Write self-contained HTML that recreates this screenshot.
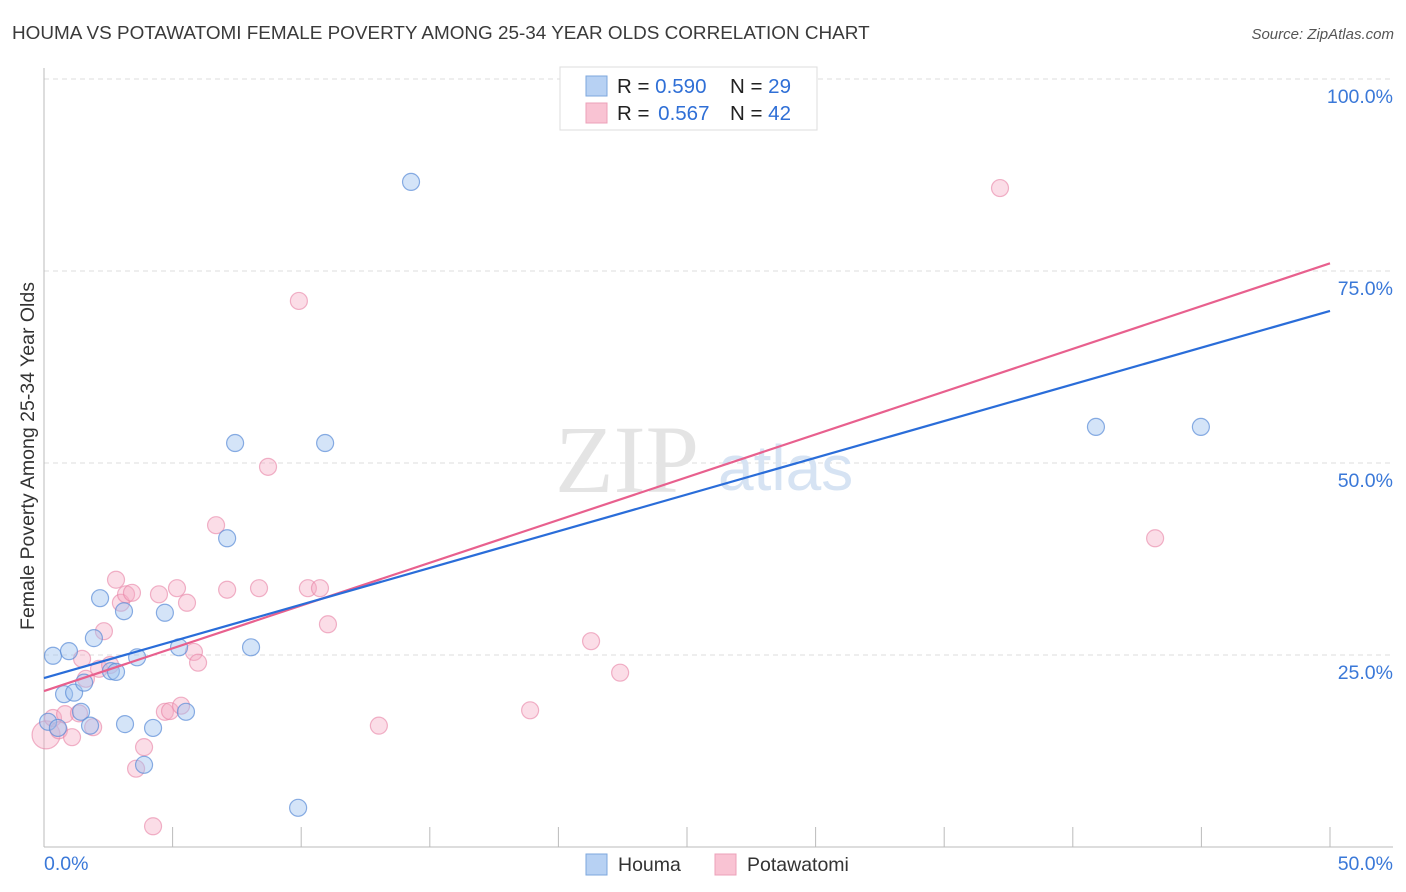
<!DOCTYPE html>
<html><head><meta charset="utf-8">
<style>
body{margin:0;background:#fff;font-family:"Liberation Sans",sans-serif;}
#wrap{position:relative;width:1406px;height:892px;overflow:hidden;}
</style></head>
<body>
<div id="wrap">
<svg id="svg" width="1406" height="892" xmlns="http://www.w3.org/2000/svg">
<text x="12" y="39" font-size="18.9" fill="#3a3a3a">HOUMA VS POTAWATOMI FEMALE POVERTY AMONG 25-34 YEAR OLDS CORRELATION CHART</text>
<text x="1394" y="39" font-size="15" fill="#555" font-style="italic" text-anchor="end">Source: ZipAtlas.com</text>
<text transform="translate(34,456) rotate(-90)" font-size="19.5" fill="#333" text-anchor="middle">Female Poverty Among 25-34 Year Olds</text>
<g id="grid"></g>
<text x="555" y="492" font-size="96" fill="#e4e4e4" font-family="Liberation Serif,serif">ZIP</text>
<text x="718" y="490" font-size="64" fill="#d6e3f3">atlas</text>
<g id="pts"></g>
<g id="lines"></g>
<g>
<rect x="560" y="67" width="257" height="63" fill="#fff" stroke="#ddd"/>
<rect x="586" y="76" width="21" height="20" fill="#b7d1f3" stroke="#7ea7dc"/>
<rect x="586" y="103" width="21" height="20" fill="#f9c3d3" stroke="#eca0b8"/>
<text x="617" y="93" font-size="20.5" fill="#222">R = <tspan fill="#2f6fd6">0.590</tspan></text>
<text x="730" y="93" font-size="20.5" fill="#222">N = <tspan fill="#2f6fd6">29</tspan></text>
<text x="617" y="120" font-size="20.5" fill="#222">R = <tspan fill="#2f6fd6" dx="3">0.567</tspan></text>
<text x="730" y="120" font-size="20.5" fill="#222">N = <tspan fill="#2f6fd6">42</tspan></text>
</g>
<g>
<rect x="586" y="854" width="21" height="21" fill="#b7d1f3" stroke="#7ea7dc"/>
<text x="618" y="871" font-size="19.5" fill="#333">Houma</text>
<rect x="715" y="854" width="21" height="21" fill="#f9c3d3" stroke="#eca0b8"/>
<text x="747" y="871" font-size="19.5" fill="#333">Potawatomi</text>
</g>
</svg>
</div>
<script>
const yTicks=[25,50,75,100];
const yTickLabels=["25.0%","50.0%","75.0%","100.0%"];
const xTicks=[0,5,10,15,20,25,30,35,40,45,50];
const houmaX=[0.35,0.97,0.78,1.17,1.44,1.56,1.79,1.94,2.18,2.6,2.8,3.11,3.15,3.62,3.89,4.24,4.7,5.25,5.52,7.12,7.43,8.05,9.88,10.93,14.27,40.9,44.98,0.16,0.54];
const houmaY=[24.9,25.5,19.9,20.1,17.6,21.4,15.8,27.2,32.4,22.9,22.8,30.7,16.0,24.7,10.7,15.5,30.5,26.0,17.6,40.2,52.6,26.0,5.1,52.6,86.6,54.7,54.7,16.3,15.5];
const potX=[0.08,0.35,0.58,0.82,1.09,1.36,1.48,1.63,1.91,2.14,2.33,2.57,2.8,2.99,3.19,3.42,3.58,3.89,4.24,4.47,4.7,4.9,5.17,5.33,5.56,5.83,5.99,6.69,7.12,8.36,8.71,9.91,10.26,10.73,11.04,13.02,18.9,21.27,22.4,37.17,43.2,25.4];
const potY=[14.6,16.8,15.2,17.3,14.3,17.4,24.5,21.9,15.6,23.2,28.1,23.7,34.8,31.8,32.9,33.1,10.2,13.0,2.7,32.9,17.6,17.7,33.7,18.4,31.8,25.4,24.0,41.9,33.5,33.7,49.5,71.1,33.7,33.7,29.0,15.8,17.8,26.8,22.7,85.8,40.2,100.4];
const houmaLine=[22.0,69.8];
const potLine=[20.3,76.0];
const NS="http://www.w3.org/2000/svg";
const X=v=>44+v*(1286/50);
const Y=v=>847-v*7.68;
function mk(tag,attrs,parent){const e=document.createElementNS(NS,tag);for(const k in attrs)e.setAttribute(k,attrs[k]);parent.appendChild(e);return e;}
const grid=document.getElementById('grid');
yTicks.forEach((t,i)=>{
  const l=mk('line',{x1:44,x2:1393,y1:Y(t),y2:Y(t),stroke:'#ddd','stroke-dasharray':'5,4'},grid);
  
  
  const tx=mk('text',{x:1393,y:Y(t)+24,'font-size':19.5,fill:'#3a78d8','text-anchor':'end'},grid);
  tx.textContent=yTickLabels[i];
  
  
});
const ax=mk('line',{x1:44,x2:1393,y1:847,y2:847,stroke:'#bbb'},grid);


const ay=mk('line',{x1:44,x2:44,y1:68,y2:847,stroke:'#bbb'},grid);


xTicks.forEach(t=>{
  const l=mk('line',{x1:X(t),x2:X(t),y1:827,y2:847,stroke:'#bbb'},grid);
  
  
});
const xl0=mk('text',{x:44,y:870,'font-size':19.5,fill:'#3a78d8'},grid);xl0.textContent='0.0%';


const xl1=mk('text',{x:1393,y:870,'font-size':19.5,fill:'#3a78d8','text-anchor':'end'},grid);xl1.textContent='50.0%';


const pts=document.getElementById('pts');
potX.forEach((x,i)=>{
  const c=mk('circle',{cx:X(x),cy:Y(potY[i]),r:i===0?14:8.5,fill:'rgba(245,170,195,0.4)',stroke:'rgba(232,130,165,0.6)','stroke-width':1.2},pts);
  
  
});
houmaX.forEach((x,i)=>{
  const c=mk('circle',{cx:X(x),cy:Y(houmaY[i]),r:8.5,fill:'rgba(160,195,240,0.45)',stroke:'rgba(90,140,215,0.7)','stroke-width':1.2},pts);
  
  
});
const lines=document.getElementById('lines');
const pl=mk('line',{x1:X(0),y1:Y(potLine[0]),x2:X(50),y2:Y(potLine[1]),stroke:'#e8608e','stroke-width':2.2},lines);


const hl=mk('line',{x1:X(0),y1:Y(houmaLine[0]),x2:X(50),y2:Y(houmaLine[1]),stroke:'#2a6dd9','stroke-width':2.2},lines);


</script>
</body></html>
